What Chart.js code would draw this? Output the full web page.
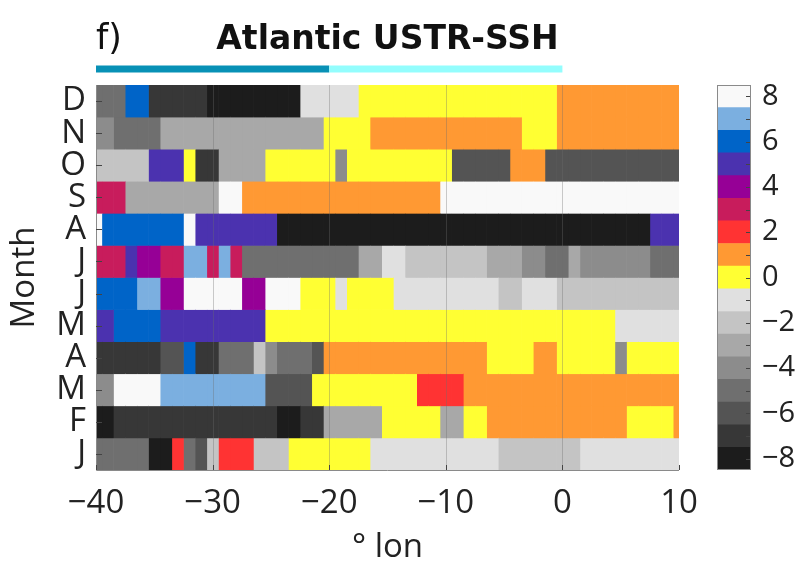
<!DOCTYPE html>
<html>
<head>
<meta charset="utf-8">
<script src="https://cdn.jsdelivr.net/npm/chart.js@4"></script>
<style>
  html, body { margin: 0; padding: 0; background: #fff; }
  #wrap { position: relative; width: 803px; height: 573px; }
  #wrap canvas { position: absolute; left: 0; top: 0; }
</style>
</head>
<body>
<div id="wrap">
  <canvas id="heat" width="803" height="573"></canvas>
  <canvas id="cbar" width="803" height="573"></canvas>
</div>
<script>
// longitude of each column (1 degree cells)
var lon = [-40, -39, -38, -37, -36, -35, -34, -33, -32, -31, -30, -29, -28, -27, -26, -25, -24,
    -23, -22, -21, -20, -19, -18, -17, -16, -15, -14, -13, -12, -11, -10, -9, -8, -7, -6, -5, -4,
    -3, -2, -1, 0, 1, 2, 3, 4, 5, 6, 7, 8, 9, 10];

var monthNames = ['Jan', 'Feb', 'Mar', 'Apr', 'May', 'Jun', 'Jul', 'Aug', 'Sep', 'Oct', 'Nov', 'Dec'];
var monthTicks = ['J', 'F', 'M', 'A', 'M', 'J', 'J', 'A', 'S', 'O', 'N', 'D'];

// USTR-SSH lag per month, columns follow lon
var jan = [-5, -5, -5, -5, -5, -8, -8, 2, -5, -6, -2, 2, 2, 2, -2, -2, -2,
    0, 0, 0, 0, 0, 0, 0, -1, -1, -1, -1, -1, -1, -1, -1, -1, -1, -1, -2, -2,
    -2, -2, -2, -2, -2, -1, -1, -1, -1, -1, -1, -1, -1, -1];
var feb = [-8, -8, -7, -7, -7, -7, -7, -7, -7, -7, -7, -7, -7, -7, -7, -7, -8,
    -8, -7, -7, -3, -3, -3, -3, -3, 0, 0, 0, 0, 0, -3, -3, 0, 0, 1, 1, 1,
    1, 1, 1, 1, 1, 1, 1, 1, 1, 0, 0, 0, 0, 1];
var mar = [-4, -4, 8, 8, 8, 8, 7, 7, 7, 7, 7, 7, 7, 7, 7, -6, -6,
    -6, -6, 0, 0, 0, 0, 0, 0, 0, 0, 0, 2, 2, 2, 2, 1, 1, 1, 1, 1,
    1, 1, 1, 1, 1, 1, 1, 1, 1, 1, 1, 1, 1, 1];
var apr = [-7, -7, -7, -7, -7, -7, -6, -6, 6, -7, -7, -5, -5, -5, -2, -4, -5,
    -5, -5, -6, 1, 1, 1, 1, 1, 1, 1, 1, 1, 1, 1, 1, 1, 1, 0, 0, 0,
    0, 1, 1, 0, 0, 0, 0, 0, -4, 0, 0, 0, 0, 0];
var may = [5, 5, 6, 6, 6, 6, 5, 5, 5, 5, 5, 5, 5, 5, 5, 0, 0,
    0, 0, 0, 0, 0, 0, 0, 0, 0, 0, 0, 0, 0, 0, 0, 0, 0, 0, 0, 0,
    0, 0, 0, 0, 0, 0, 0, 0, -1, -1, -1, -1, -1, -1];
var jun = [6, 6, 6, 6, 7, 7, 4, 4, 8, 8, 8, 8, 8, 4, 4, 8, 8,
    8, 0, 0, 0, -1, 0, 0, 0, 0, -1, -1, -1, -1, -1, -1, -1, -1, -1, -2, -2,
    -1, -1, -1, -2, -2, -2, -2, -2, -2, -2, -2, -2, -2, -2];
var jul = [3, 3, 3, 5, 4, 4, 3, 3, 7, 7, 3, 7, 3, -5, -5, -5, -5,
    -5, -5, -5, -5, -5, -5, -3, -3, -1, -1, -2, -2, -2, -2, -2, -2, -2, -3, -3, -3,
    -4, -4, -5, -5, -3, -4, -4, -4, -4, -4, -4, -5, -5, -5];
var aug = [8, 6, 6, 6, 6, 6, 6, 6, 8, 5, 5, 5, 5, 5, 5, 5, -8,
    -8, -8, -8, -8, -8, -8, -8, -8, -8, -8, -8, -8, -8, -8, -8, -8, -8, -8, -8, -8,
    -8, -8, -8, -8, -8, -8, -8, -8, -8, -8, -8, 5, 5, 5];
var sep = [3, 3, 3, -3, -3, -3, -3, -3, -3, -3, -3, 8, 8, 1, 1, 1, 1,
    1, 1, 1, 1, 1, 1, 1, 1, 1, 1, 1, 1, 1, 8, 8, 8, 8, 8, 8, 8,
    8, 8, 8, 8, 8, 8, 8, 8, 8, 8, 8, 8, 8, 8];
var oct = [-2, -2, -2, -2, -2, 5, 5, 5, 0, -7, -7, -3, -3, -3, -3, 0, 0,
    0, 0, 0, 0, -4, 0, 0, 0, 0, 0, 0, 0, 0, 0, -6, -6, -6, -6, -6, 1,
    1, 1, -6, -6, -6, -6, -6, -6, -6, -6, -6, -6, -6, -6];
var nov = [-4, -4, -5, -5, -5, -5, -3, -3, -3, -3, -3, -3, -3, -3, -3, -3, -3,
    -3, -3, -3, 0, 0, 0, 0, 1, 1, 1, 1, 1, 1, 1, 1, 1, 1, 1, 1, 1,
    0, 0, 0, 1, 1, 1, 1, 1, 1, 1, 1, 1, 1, 1];
var dec = [-5, -5, -5, 6, 6, -7, -7, -7, -7, -7, -8, -8, -8, -8, -8, -8, -8,
    -8, -1, -1, -1, -1, -1, 0, 0, 0, 0, 0, 0, 0, 0, 0, 0, 0, 0, 0, 0,
    0, 0, 0, 1, 1, 1, 1, 1, 1, 1, 1, 1, 1, 1];

var months = [jan, feb, mar, apr, may, jun, jul, aug, sep, oct, nov, dec];

// discrete colour scale, one colour per level
var levels = [-8, -7, -6, -5, -4, -3, -2, -1, 0, 1, 2, 3, 4, 5, 6, 7, 8];
var palette = ['#1c1c1c', '#373737', '#545454', '#6f6f6f', '#8c8c8c', '#a8a8a8', '#c4c4c4', '#e0e0e0',
    '#ffff33', '#ff9933', '#ff3333', '#c81c5c', '#960096', '#4b32af', '#0064c8', '#7bafe0', '#f9f9f9'];
var cbarTicks = [-8, -6, -4, -2, 0, 2, 4, 6, 8];

// bar above the panel marking the two longitude bands
var bandEdges = [-40, -20, 0];
var bandColors = ['#0891b6', '#93fdfd'];

var lonMin = -40, lonMax = 10;
var FONT = '"Open Sans", "DejaVu Sans", sans-serif';

function colorOf(v) {
    return palette[levels.indexOf(v)];
}
function fmt(v) {
    return v < 0 ? '\u2212' + Math.abs(v) : String(v);
}

// one dataset per longitude column, floating bars spanning the cell
var datasets = lon.map(function (x, i) {
    return {
        data: months.map(function () {
            return [Math.max(lonMin, x - 0.5), Math.min(lonMax, x + 0.5)];
        }),
        backgroundColor: months.map(function (m) { return colorOf(m[i]); }),
        borderWidth: 0,
        grouped: false,
        barPercentage: 1,
        categoryPercentage: 1
    };
});

var heatDecor = {
    id: 'heatDecor',
    afterDatasetsDraw: function (chart) {
        var ctx = chart.ctx, a = chart.chartArea;
        var xs = chart.scales.x, ys = chart.scales.y;
        ctx.save();
        // faint grid over the cells
        ctx.strokeStyle = 'rgba(110,110,110,0.35)';
        ctx.lineWidth = 1;
        xs.ticks.forEach(function (t) {
            if (t.value <= lonMin || t.value >= lonMax) return;
            var px = Math.round(xs.getPixelForValue(t.value)) + 0.5;
            ctx.beginPath(); ctx.moveTo(px, a.top); ctx.lineTo(px, a.bottom); ctx.stroke();
        });
        // axis lines and inward ticks
        ctx.strokeStyle = '#8a8a8a';
        ctx.beginPath();
        ctx.moveTo(a.left + 0.5, a.top); ctx.lineTo(a.left + 0.5, a.bottom + 0.5);
        ctx.lineTo(a.right, a.bottom + 0.5);
        ctx.stroke();
        ctx.strokeStyle = '#444';
        xs.ticks.forEach(function (t) {
            var px = Math.round(xs.getPixelForValue(t.value)) + 0.5;
            ctx.beginPath(); ctx.moveTo(px, a.bottom); ctx.lineTo(px, a.bottom - 5); ctx.stroke();
        });
        monthNames.forEach(function (m, i) {
            var py = Math.round(ys.getPixelForValue(i)) + 0.5;
            ctx.beginPath(); ctx.moveTo(a.left, py); ctx.lineTo(a.left + 6, py); ctx.stroke();
        });
        ctx.restore();
    },
    afterDraw: function (chart) {
        var ctx = chart.ctx, a = chart.chartArea, xs = chart.scales.x;
        ctx.save();
        ctx.fillStyle = '#111';
        ctx.textBaseline = 'alphabetic';
        ctx.font = '35px "DejaVu Sans", sans-serif';
        ctx.textAlign = 'left';
        ctx.fillText('f)', a.left, 49);
        ctx.font = 'bold 33px "DejaVu Sans", sans-serif';
        ctx.textAlign = 'center';
        ctx.fillText('Atlantic USTR-SSH', (a.left + a.right) / 2, 49);
        for (var i = 0; i < bandColors.length; i++) {
            var x0 = xs.getPixelForValue(bandEdges[i]);
            var x1 = xs.getPixelForValue(bandEdges[i + 1]);
            ctx.fillStyle = bandColors[i];
            ctx.fillRect(x0, 65.5, x1 - x0, 7);
        }
        ctx.restore();
    }
};

new Chart(document.getElementById('heat').getContext('2d'), {
    type: 'bar',
    data: {labels: monthNames, datasets: datasets},
    options: {
        responsive: false,
        animation: false,
        indexAxis: 'y',
        layout: {padding: {left: 0, top: 85, right: 124, bottom: 0}},
        plugins: {legend: {display: false}, tooltip: {enabled: false}},
        scales: {
            x: {
                type: 'linear', min: lonMin, max: lonMax,
                grid: {display: false, drawTicks: false},
                border: {display: false},
                ticks: {stepSize: 10, padding: 14, color: '#222', font: {family: FONT, size: 33}, callback: fmt},
                title: {display: true, text: '\u00b0 lon', color: '#222', font: {family: FONT, size: 33}, padding: {top: 0, bottom: 6}},
                afterFit: function (s) { s.height = 103; }
            },
            y: {
                reverse: true,
                grid: {display: false, drawTicks: false},
                border: {display: false},
                ticks: {padding: 10, autoSkip: false, color: '#222', font: {family: FONT, size: 33},
                    callback: function (v, i) { return monthTicks[i]; }},
                title: {display: true, text: 'Month', color: '#222', font: {family: FONT, size: 33}, padding: {top: 5, bottom: 0}},
                afterFit: function (s) { s.width = 96; }
            }
        }
    },
    plugins: [heatDecor]
});

// colour bar: one floating bar per level on a linear scale
var cbarDecor = {
    id: 'cbarDecor',
    afterDatasetsDraw: function (chart) {
        var ctx = chart.ctx, a = chart.chartArea, ys = chart.scales.y;
        ctx.save();
        ctx.strokeStyle = '#444';
        ctx.lineWidth = 1;
        levels.forEach(function (v) {
            var py = Math.round(ys.getPixelForValue(v)) + 0.5;
            ctx.beginPath(); ctx.moveTo(a.right, py); ctx.lineTo(a.right - 5, py); ctx.stroke();
        });
        ctx.strokeStyle = '#8a8a8a';
        ctx.strokeRect(a.left + 0.5, a.top + 0.5, a.right - a.left - 1, a.bottom - a.top - 1);
        ctx.restore();
    }
};

new Chart(document.getElementById('cbar').getContext('2d'), {
    type: 'bar',
    data: {
        labels: ['c'],
        datasets: levels.map(function (v, i) {
            return {data: [[v - 0.5, v + 0.5]], backgroundColor: palette[i], borderWidth: 0,
                grouped: false, barPercentage: 1, categoryPercentage: 1};
        })
    },
    options: {
        responsive: false,
        animation: false,
        layout: {padding: {left: 717, top: 85, right: 0, bottom: 103}},
        plugins: {legend: {display: false}, tooltip: {enabled: false}},
        scales: {
            x: {display: false},
            y: {
                position: 'right', min: -8.5, max: 8.5,
                grid: {display: false, drawTicks: false},
                border: {display: false},
                ticks: {padding: 11, color: '#222', font: {family: FONT, size: 29}, callback: fmt},
                afterBuildTicks: function (s) { s.ticks = cbarTicks.map(function (v) { return {value: v}; }); },
                afterFit: function (s) { s.width = 803 - 717 - 34; }
            }
        }
    },
    plugins: [cbarDecor]
});
</script>
</body>
</html>
